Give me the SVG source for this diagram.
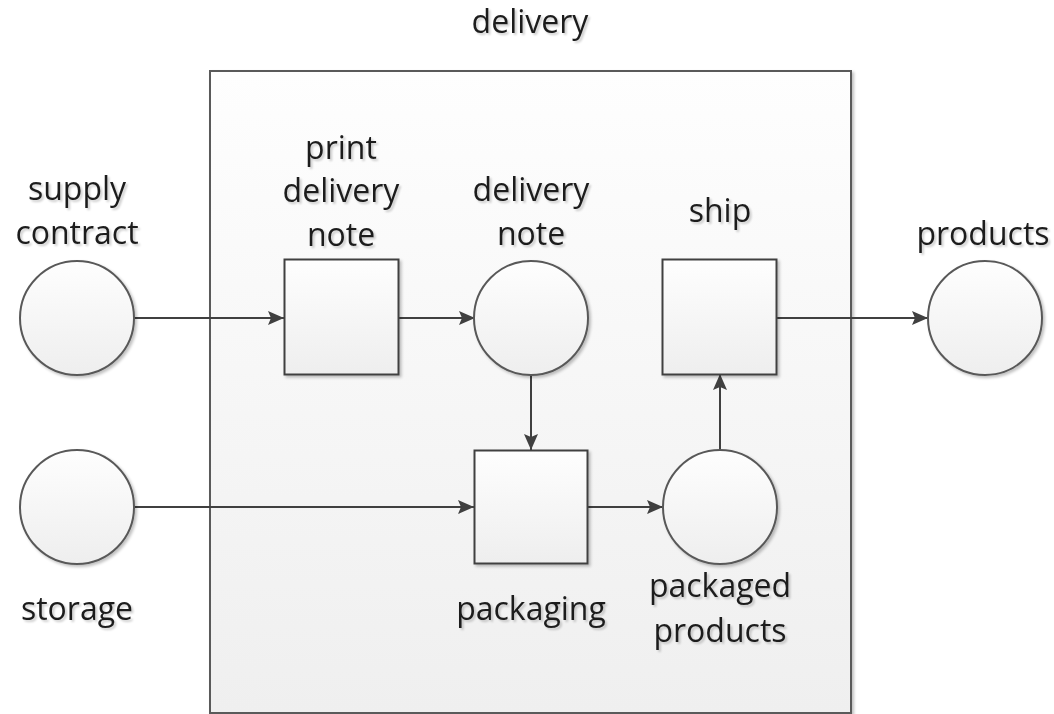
<svg xmlns="http://www.w3.org/2000/svg" width="1054" height="714" viewBox="0 0 1054 714">
  <defs>
    <linearGradient id="shapeFill" x1="0" y1="0" x2="0" y2="1">
      <stop offset="0" stop-color="#fefefe"/>
      <stop offset="1" stop-color="#eeeeee"/>
    </linearGradient>
    <linearGradient id="poolFill" x1="0" y1="0" x2="0" y2="1">
      <stop offset="0" stop-color="#fefefe"/>
      <stop offset="1" stop-color="#efefef"/>
    </linearGradient>
    <filter id="shadow" x="-10%" y="-10%" width="130%" height="130%">
      <feGaussianBlur in="SourceAlpha" stdDeviation="1.5"/>
      <feOffset dx="2" dy="2" result="off"/>
      <feComponentTransfer><feFuncA type="linear" slope="0.25"/></feComponentTransfer>
      <feMerge><feMergeNode/><feMergeNode in="SourceGraphic"/></feMerge>
    </filter>
    <filter id="textShadow" x="-5%" y="-10%" width="115%" height="130%">
      <feGaussianBlur in="SourceAlpha" stdDeviation="1"/>
      <feOffset dx="2" dy="2" result="off"/>
      <feComponentTransfer><feFuncA type="linear" slope="0.2"/></feComponentTransfer>
      <feMerge><feMergeNode/><feMergeNode in="SourceGraphic"/></feMerge>
    </filter>
    <marker id="arrow" markerUnits="userSpaceOnUse" markerWidth="18" markerHeight="16" refX="16" refY="8" orient="auto">
      <path d="M0,1 L16,8 L0,15 L3,8 Z" fill="#404040"/>
    </marker>
  </defs>
  <style>
    .place { fill: url(#shapeFill); stroke: #595959; stroke-width: 2; filter: url(#shadow); }
    .trans { fill: url(#shapeFill); stroke: #404040; stroke-width: 2; filter: url(#shadow); }
    .edge { fill: none; stroke: #404040; stroke-width: 2; marker-end: url(#arrow); }
    .label { font-family: "Open Sans", "Noto Sans", sans-serif; font-size: 32px; fill: #1e1e1e; text-anchor: middle; filter: url(#textShadow); }
  </style>

  <rect width="1054" height="714" fill="#ffffff"/>

  <!-- subnet container -->
  <g id="delivery">
    <rect x="210" y="71" width="641" height="642" fill="url(#poolFill)" stroke="#5a5a5a" stroke-width="2" filter="url(#shadow)"/>
    <text class="label" x="530" y="33">delivery</text>
  </g>

  <!-- arcs -->
  <g id="connectors">
    <path class="edge" d="M134,318 H284"/>
    <path class="edge" d="M399,318 H475"/>
    <path class="edge" d="M777,318 H928"/>
    <path class="edge" d="M531,375 V450"/>
    <path class="edge" d="M134,507 H474"/>
    <path class="edge" d="M588,507 H663"/>
    <path class="edge" d="M720,450 V374"/>
  </g>

  <g id="supply-contract">
    <circle class="place" cx="77" cy="318" r="57"/>
    <text class="label"><tspan x="77" y="200">supply</tspan><tspan x="77" y="244">contract</tspan></text>
  </g>

  <g id="print-delivery-note">
    <rect class="trans" x="284.5" y="259.5" width="114" height="115"/>
    <text class="label"><tspan x="341" y="159">print</tspan><tspan x="341" y="202">delivery</tspan><tspan x="341" y="246">note</tspan></text>
  </g>

  <g id="delivery-note">
    <circle class="place" cx="531" cy="318" r="57"/>
    <text class="label"><tspan x="531" y="201">delivery</tspan><tspan x="531" y="245">note</tspan></text>
  </g>

  <g id="ship">
    <rect class="trans" x="662.5" y="259.5" width="114" height="115"/>
    <text class="label" x="720" y="222">ship</text>
  </g>

  <g id="products">
    <circle class="place" cx="985" cy="318" r="57"/>
    <text class="label" x="983" y="245">products</text>
  </g>

  <g id="storage">
    <circle class="place" cx="77" cy="507" r="57"/>
    <text class="label" x="77" y="620">storage</text>
  </g>

  <g id="packaging">
    <rect class="trans" x="474.5" y="450.5" width="113" height="113"/>
    <text class="label" x="531" y="620">packaging</text>
  </g>

  <g id="packaged-products">
    <circle class="place" cx="720" cy="507" r="57"/>
    <text class="label"><tspan x="720" y="597">packaged</tspan><tspan x="720" y="642">products</tspan></text>
  </g>
</svg>
